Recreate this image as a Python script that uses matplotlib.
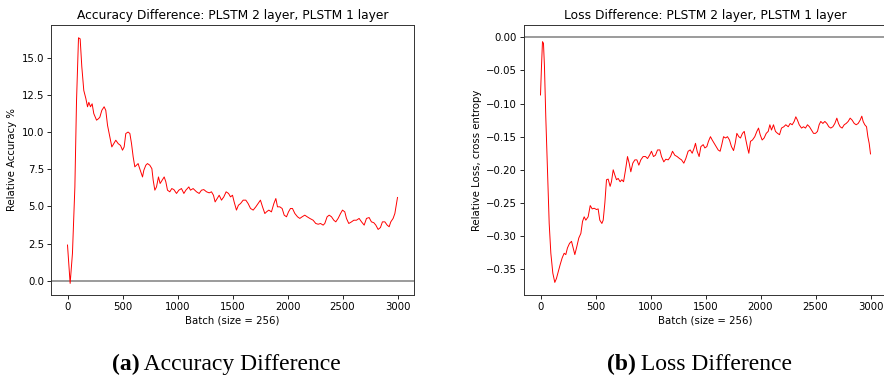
import numpy as np
import matplotlib.pyplot as plt

# accuracy difference (PLSTM 2 layer - PLSTM 1 layer)
acc_batch = [0, 24, 45, 67, 82, 100, 115, 130, 148, 167, 182, 194, 209, 224, 239, 264, 282, 294,
             312, 333, 348, 364, 385, 403, 421, 439, 461, 482, 500, 515, 530, 551, 567, 582, 597,
             612, 627, 642, 651, 667, 682, 694, 712, 727, 748, 767, 779, 794, 809, 827, 842, 861,
             879, 894, 909, 930, 948, 967, 991, 1012, 1036, 1058, 1076, 1103, 1118, 1142, 1173,
             1197, 1218, 1239, 1264, 1288, 1309, 1327, 1342, 1361, 1379, 1400, 1421, 1442, 1464,
             1482, 1500, 1515, 1536, 1554, 1573, 1597, 1621, 1642, 1664, 1688, 1712, 1733, 1754,
             1773, 1794, 1809, 1830, 1854, 1876, 1894, 1909, 1930, 1951, 1970, 1991, 2009, 2027,
             2045, 2067, 2091, 2112, 2133, 2157, 2179, 2203, 2233, 2257, 2279, 2300, 2324, 2339,
             2360, 2379, 2400, 2421, 2439, 2460, 2482, 2500, 2521, 2536, 2557, 2582, 2603, 2627,
             2651, 2673, 2697, 2718, 2742, 2763, 2785, 2803, 2824, 2845, 2863, 2885, 2906, 2924,
             2939, 2960, 2976, 2991, 3000]
acc_diff = [2.4, -0.18, 1.84, 6.3, 12.1, 16.34, 16.27, 14.4, 12.8, 12.25, 11.7, 12.0, 11.7, 11.9,
            11.24, 10.8, 10.9, 11.0, 11.46, 11.7, 11.46, 10.45, 9.67, 9.0, 9.22, 9.45, 9.22, 9.1,
            8.78, 9.0, 9.9, 10.0, 9.9, 9.22, 8.33, 7.66, 7.77, 7.88, 7.66, 7.32, 6.98, 7.43, 7.77,
            7.88, 7.77, 7.54, 6.76, 6.09, 6.31, 6.98, 6.54, 6.76, 6.98, 6.65, 6.09, 5.98, 6.2,
            6.13, 5.87, 6.09, 6.2, 5.87, 6.09, 6.31, 6.09, 6.2, 5.98, 5.87, 6.09, 6.13, 5.98, 5.91,
            5.98, 5.75, 5.3, 5.53, 5.75, 5.42, 5.64, 5.98, 5.87, 5.64, 5.75, 5.3, 4.75, 5.08, 5.19,
            5.42, 5.42, 5.19, 4.86, 4.75, 4.97, 5.19, 5.42, 4.97, 4.52, 4.63, 4.75, 4.63, 5.19,
            5.53, 4.97, 4.97, 4.86, 4.41, 4.3, 4.63, 4.86, 4.86, 4.52, 4.3, 4.19, 4.3, 4.41, 4.3,
            4.19, 4.07, 3.85, 3.8, 3.85, 3.74, 3.85, 4.3, 4.41, 4.3, 4.07, 3.96, 4.19, 4.52, 4.75,
            4.63, 4.19, 3.85, 3.96, 4.07, 4.07, 4.19, 3.96, 3.74, 4.19, 4.25, 3.96, 3.9, 3.74,
            3.45, 3.58, 3.96, 3.96, 3.74, 3.63, 3.96, 4.19, 4.52, 5.19, 5.6]

# loss difference (cross entropy)
loss_batch = [0, 9, 18, 27, 36, 48, 64, 79, 94, 112, 130, 145, 161, 179, 197, 215, 230, 245, 264,
              282, 297, 312, 330, 348, 367, 382, 397, 412, 433, 452, 470, 488, 509, 524, 539, 558,
              570, 585, 600, 615, 633, 645, 661, 676, 691, 706, 724, 739, 755, 773, 791, 806, 821,
              839, 858, 876, 894, 912, 933, 955, 973, 991, 1009, 1027, 1045, 1064, 1085, 1100,
              1121, 1139, 1161, 1182, 1200, 1221, 1242, 1264, 1282, 1303, 1321, 1342, 1361, 1379,
              1397, 1409, 1424, 1442, 1458, 1479, 1494, 1512, 1527, 1545, 1561, 1579, 1597, 1615,
              1633, 1648, 1664, 1682, 1700, 1718, 1736, 1755, 1770, 1785, 1803, 1818, 1836, 1852,
              1867, 1882, 1894, 1909, 1927, 1948, 1967, 1982, 1997, 2015, 2033, 2052, 2070, 2085,
              2100, 2118, 2136, 2155, 2173, 2191, 2212, 2230, 2252, 2270, 2288, 2306, 2321, 2336,
              2352, 2373, 2391, 2409, 2427, 2445, 2464, 2482, 2500, 2518, 2533, 2548, 2567, 2585,
              2603, 2621, 2639, 2658, 2676, 2694, 2709, 2724, 2742, 2761, 2779, 2797, 2815, 2833,
              2852, 2870, 2888, 2906, 2921, 2933, 2948, 2964, 2976, 2988, 3000]
loss_diff = [-0.087, -0.044, -0.0065, -0.009, -0.044, -0.12, -0.205, -0.281, -0.326, -0.356,
             -0.370, -0.364, -0.354, -0.343, -0.333, -0.326, -0.328, -0.318, -0.311, -0.308,
             -0.318, -0.328, -0.316, -0.303, -0.296, -0.278, -0.271, -0.276, -0.271, -0.254,
             -0.259, -0.258, -0.260, -0.259, -0.276, -0.281, -0.276, -0.250, -0.215, -0.214,
             -0.225, -0.218, -0.200, -0.208, -0.215, -0.213, -0.218, -0.215, -0.218, -0.200,
             -0.180, -0.190, -0.203, -0.190, -0.185, -0.185, -0.193, -0.185, -0.180, -0.180,
             -0.183, -0.178, -0.172, -0.180, -0.178, -0.170, -0.170, -0.180, -0.188, -0.184,
             -0.185, -0.180, -0.172, -0.178, -0.180, -0.183, -0.185, -0.190, -0.183, -0.172,
             -0.170, -0.175, -0.167, -0.160, -0.172, -0.180, -0.165, -0.162, -0.167, -0.165,
             -0.157, -0.150, -0.155, -0.160, -0.165, -0.170, -0.172, -0.162, -0.150, -0.152,
             -0.150, -0.155, -0.165, -0.171, -0.160, -0.145, -0.150, -0.152, -0.145, -0.142,
             -0.155, -0.167, -0.175, -0.157, -0.155, -0.150, -0.142, -0.137, -0.147, -0.155,
             -0.152, -0.145, -0.142, -0.132, -0.140, -0.132, -0.142, -0.145, -0.147, -0.137,
             -0.135, -0.132, -0.135, -0.130, -0.132, -0.127, -0.120, -0.125, -0.132, -0.137,
             -0.135, -0.137, -0.132, -0.135, -0.140, -0.145, -0.145, -0.142, -0.132, -0.127,
             -0.130, -0.127, -0.130, -0.135, -0.137, -0.135, -0.130, -0.122, -0.130, -0.135,
             -0.137, -0.132, -0.130, -0.127, -0.122, -0.125, -0.130, -0.132, -0.130, -0.125,
             -0.119, -0.127, -0.132, -0.135, -0.150, -0.160, -0.176]

acc_yticks = [0.0, 2.5, 5.0, 7.5, 10.0, 12.5, 15.0]
loss_yticks = [-0.35, -0.30, -0.25, -0.20, -0.15, -0.10, -0.05, 0.00]
xticks = [0, 500, 1000, 1500, 2000, 2500, 3000]

fig = plt.figure(figsize=(8.84, 3.75), dpi=100)
ax1 = fig.add_axes([51/884, 80/375, 363/884, 270/375])
ax2 = fig.add_axes([524/884, 80/375, 363/884, 270/375])

panels = [
    (ax1, acc_batch, acc_diff, acc_yticks, 'Accuracy Difference: PLSTM 2 layer, PLSTM 1 layer',
     'Relative Accuracy %', '%.1f'),
    (ax2, loss_batch, loss_diff, loss_yticks, 'Loss Difference: PLSTM 2 layer, PLSTM 1 layer',
     'Relative Loss, cross entropy', '%.2f'),
]
for ax, x, y, yt, title, ylab, fmt in panels:
    ax.axhline(0, color='grey', lw=1.1)
    ax.plot(x, y, color='red', lw=0.7)
    ax.set_xlim(-150, 3150)
    ax.set_xticks(xticks)
    ax.set_yticks(yt)
    ax.set_yticklabels([(fmt % v).replace('-', '\u2212') for v in yt])
    ax.set_title(title, fontsize=8.8, pad=4)
    ax.set_ylabel(ylab, fontsize=7.3, labelpad=3)
    ax.set_xlabel('Batch (size = 256)', fontsize=7.3, labelpad=2.5)
    ax.tick_params(labelsize=7.3, length=2.6, width=0.6, pad=2.5)
    for s in ax.spines.values():
        s.set_linewidth(0.7)
        s.set_color('#333333')

ax1.set_ylim(-0.96, 17.2)
ax2.set_ylim(-0.389, 0.0186)

# sub-figure captions, bold letter + regular text
fig.canvas.draw()
r = fig.canvas.get_renderer()
for cx, letter, txt in [(226.5, '(a)', ' Accuracy Difference'), (699.5, '(b)', ' Loss Difference')]:
    t1 = fig.text(0, 0.013, letter, family='Liberation Serif', fontsize=17, weight='bold')
    t2 = fig.text(0, 0.013, txt, family='Liberation Serif', fontsize=17)
    w1 = t1.get_window_extent(r).width
    w2 = t2.get_window_extent(r).width
    x0 = cx - (w1 + w2) / 2
    t1.set_x(x0 / 884)
    t2.set_x((x0 + w1) / 884)

fig.savefig('out.png', dpi=100)
